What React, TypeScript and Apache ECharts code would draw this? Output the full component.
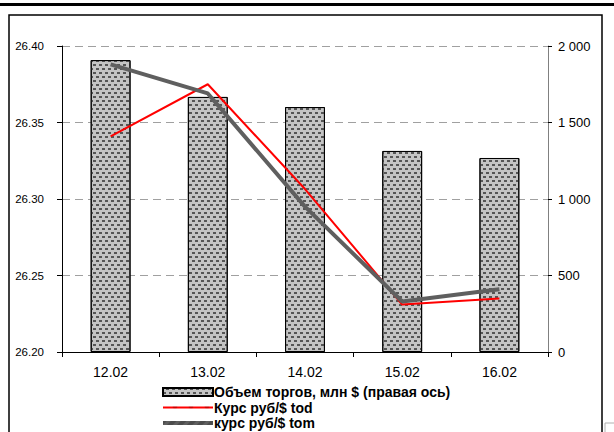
import React, { useEffect, useRef } from "react";
import * as echarts from "echarts";

const categories = ["12.02", "13.02", "14.02", "15.02", "16.02"];
const volume = [1908, 1667, 1601, 1314, 1268];
const rateTod = [26.341, 26.375, 26.3065, 26.231, 26.235];
const rateTom = [26.388, 26.369, 26.295, 26.233, 26.241];
const rightTickLabels: Record<string, string> = { "0": "0", "500": "500", "1000": "1 000", "1500": "1 500", "2000": "2 000" };
const seriesNames = ["Объем торгов, млн $ (правая ось)", "Курс руб/$ tod", "курс руб/$ tom"];

const FONT = "Liberation Sans, Arial, sans-serif";

export default function App() {
  const ref = useRef<HTMLDivElement>(null);
  useEffect(() => {
    if (!ref.current) return;
    const chart = echarts.init(ref.current, null, { renderer: "svg" });
    chart.setOption({
      animation: false,
      backgroundColor: "#fff",
      aria: { enabled: true, decal: { show: true } },
      textStyle: { fontFamily: FONT },
      grid: { left: 62, right: 66, top: 46, bottom: 80 },
      legend: {
        orient: "vertical",
        left: 157,
        top: 380,
        height: 80,
        itemWidth: 50,
        itemHeight: 8,
        itemGap: 1.5,
        data: [
          { name: seriesNames[0], icon: "rect" },
          { name: seriesNames[1], icon: "path://M0,0M0,3L50,3L50,5L0,5ZM50,8" },
          { name: seriesNames[2], icon: "path://M0,0M0,2L50,2L50,6L0,6ZM50,8" },
        ],
        textStyle: { fontFamily: FONT, fontSize: 14, fontWeight: "bold", color: "#000", lineHeight: 12, padding: [0, 0, 0, -4] },
      },
      xAxis: {
        type: "category",
        data: categories,
        axisLine: { lineStyle: { color: "#000", width: 1 } },
        axisTick: { show: true, length: 5, lineStyle: { color: "#000" } },
        axisLabel: { color: "#000", fontSize: 14, margin: 13, fontFamily: FONT },
      },
      yAxis: [
        {
          type: "value",
          min: 26.2,
          max: 26.4,
          interval: 0.05,
          position: "left",
          axisLine: { show: true, lineStyle: { color: "#000" } },
          axisTick: { show: true, length: 5, lineStyle: { color: "#000" } },
          axisLabel: { color: "#000", fontSize: 11.5, margin: 18, formatter: (v: number) => v.toFixed(2), fontFamily: FONT },
          splitLine: { show: true, lineStyle: { color: "#a0a0a0", type: [8, 5], width: 1 } },
        },
        {
          type: "value",
          min: 0,
          max: 2000,
          interval: 500,
          position: "right",
          axisLine: { show: true, lineStyle: { color: "#808080" } },
          axisTick: { show: true, length: 4, lineStyle: { color: "#000" } },
          axisLabel: { color: "#000", fontSize: 13, margin: 10, formatter: (v: number) => rightTickLabels[String(v)] ?? String(v), fontFamily: FONT },
          splitLine: { show: false },
        },
      ],
      series: [
        {
          name: seriesNames[0],
          type: "bar",
          yAxisIndex: 1,
          data: volume,
          barWidth: "41%",
          itemStyle: {
            color: "#c4c4c4",
            borderColor: "#000",
            borderWidth: 1,
            decal: {
              symbol: "rect",
              symbolSize: 1,
              color: "#555555",
              dashArrayX: [[3, 3], [0, 3, 3, 0]],
              dashArrayY: [1.3, 1.9],
              rotation: 0,
            },
          },
        },
        {
          name: seriesNames[1],
          type: "line",
          yAxisIndex: 0,
          data: rateTod,
          symbol: "none",
          lineStyle: { color: "#ff0000", width: 2 },
          itemStyle: { color: "#ff0000", decal: "none" },
        },
        {
          name: seriesNames[2],
          type: "line",
          yAxisIndex: 0,
          data: rateTom,
          symbol: "none",
          lineStyle: { color: "#5f5f5f", width: 4 },
          itemStyle: { color: "#5f5f5f", decal: "none" },
        },
      ],
      graphic: [
        { type: "rect", shape: { x: 0, y: 3, width: 614, height: 3 }, style: { fill: "#000" } },
        { type: "rect", shape: { x: 9, y: 15, width: 593, height: 440 }, style: { fill: "none", stroke: "#000", lineWidth: 1.5 } },
        { type: "rect", shape: { x: 605, y: 423, width: 20, height: 20 }, style: { fill: "#fff", stroke: "#b0b0b0", lineWidth: 1 } },
      ],
    });
    return () => chart.dispose();
  }, []);
  return <div ref={ref} style={{ position: "fixed", left: 0, top: 0, width: 614, height: 432 }} />;
}
